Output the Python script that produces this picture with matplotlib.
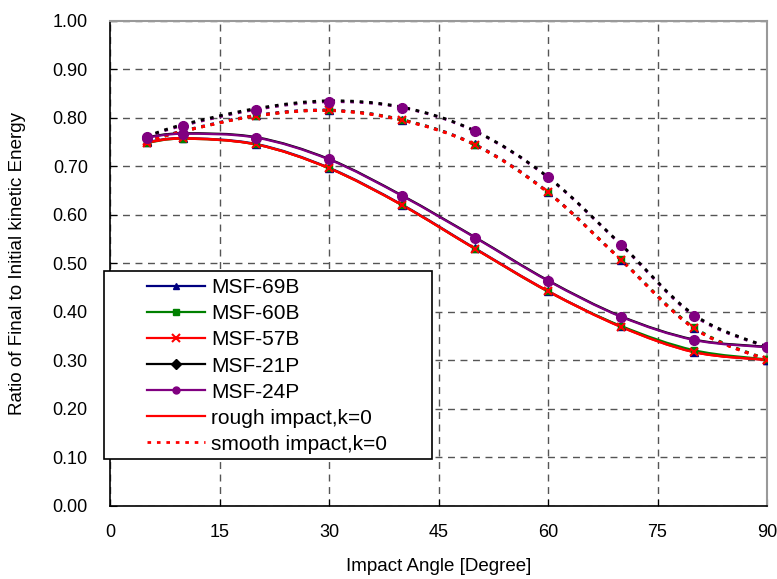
import matplotlib
matplotlib.use("Agg")
from matplotlib import pyplot as plt
from matplotlib.path import Path
from matplotlib.patches import PathPatch, Rectangle
from matplotlib.lines import Line2D

plt.rcParams['font.family'] = ['Liberation Sans', 'DejaVu Sans']

angles = [5, 10, 20, 30, 40, 50, 60, 70, 80, 90]

# rough impact (solid curves)
rough_69b = [0.750, 0.758, 0.746, 0.697, 0.621, 0.531, 0.443, 0.370, 0.318, 0.301]
rough_60b = [0.748, 0.757, 0.745, 0.696, 0.620, 0.530, 0.442, 0.371, 0.321, 0.302]
rough_57b = [0.749, 0.758, 0.745, 0.696, 0.620, 0.530, 0.443, 0.369, 0.317, 0.301]
rough_21p = [0.760, 0.768, 0.760, 0.715, 0.640, 0.554, 0.465, 0.391, 0.343, 0.328]
rough_24p = [0.759, 0.767, 0.759, 0.714, 0.639, 0.553, 0.464, 0.390, 0.342, 0.327]
rough_k0 = [0.749, 0.757, 0.745, 0.696, 0.620, 0.530, 0.442, 0.369, 0.317, 0.301]

# smooth impact (dotted curves)
smooth_69b = [0.752, 0.773, 0.805, 0.816, 0.796, 0.745, 0.647, 0.507, 0.367, 0.301]
smooth_60b = [0.751, 0.772, 0.804, 0.815, 0.796, 0.744, 0.646, 0.508, 0.368, 0.302]
smooth_57b = [0.752, 0.772, 0.804, 0.815, 0.795, 0.744, 0.646, 0.507, 0.366, 0.301]
smooth_21p = [0.762, 0.786, 0.819, 0.835, 0.822, 0.773, 0.678, 0.539, 0.394, 0.328]
smooth_24p = [0.761, 0.784, 0.817, 0.833, 0.821, 0.772, 0.677, 0.538, 0.392, 0.327]
smooth_k0 = [0.752, 0.772, 0.804, 0.815, 0.795, 0.744, 0.646, 0.507, 0.366, 0.301]

names = ['MSF-69B', 'MSF-60B', 'MSF-57B', 'MSF-21P', 'MSF-24P']
colors = ['#000080', '#008000', '#FF0000', '#000000', '#800080']
markers = ['^', 's', 'x', 'D', 'o']
msizes = [6, 5, 6, 4, 7]
rough = [rough_69b, rough_60b, rough_57b, rough_21p, rough_24p]
smooth = [smooth_69b, smooth_60b, smooth_57b, smooth_21p, smooth_24p]
# dotted black curve sits on top of the purple one in the original
smooth_z = [2.0, 2.1, 2.2, 2.5, 2.4]

DOT = (0, (1.3, 2.1))


def smooth_path(xs, ys):
    # excel-like smoothed line as cubic bezier segments
    pts = list(zip(xs, ys))
    n = len(pts)
    verts = [pts[0]]
    codes = [Path.MOVETO]
    for i in range(n - 1):
        p0 = pts[i - 1] if i > 0 else pts[i]
        p1 = pts[i]
        p2 = pts[i + 1]
        p3 = pts[i + 2] if i + 2 < n else pts[i + 1]
        c1 = (p1[0] + (p2[0] - p0[0]) / 6, p1[1] + (p2[1] - p0[1]) / 6)
        c2 = (p2[0] - (p3[0] - p1[0]) / 6, p2[1] - (p3[1] - p1[1]) / 6)
        verts += [c1, c2, p2]
        codes += [Path.CURVE4] * 3
    return Path(verts, codes)


def draw_curve(ax, xs, ys, color, ls, lw, z):
    patch = PathPatch(smooth_path(xs, ys), fill=False, edgecolor=color,
                      linestyle=ls, linewidth=lw, zorder=z)
    ax.add_patch(patch)


fig = plt.figure(figsize=(7.77, 5.79), dpi=100)
ax = fig.add_axes([110 / 777, 1 - 506 / 579, 657 / 777, 485.3 / 579])

for i in range(5):
    draw_curve(ax, angles, smooth[i], colors[i], DOT, 2.0, smooth_z[i])
    draw_curve(ax, angles, rough[i], colors[i], '-', 1.6, 2 + i * 0.1)
    ax.plot(angles, smooth[i], linestyle='none', marker=markers[i], color=colors[i],
            markersize=msizes[i], markeredgewidth=1.5 if markers[i] == 'x' else 1, zorder=3 + i * 0.1)
    ax.plot(angles, rough[i], linestyle='none', marker=markers[i], color=colors[i],
            markersize=msizes[i], markeredgewidth=1.5 if markers[i] == 'x' else 1, zorder=3 + i * 0.1)

draw_curve(ax, angles, rough_k0, '#FF0000', '-', 1.6, 2.6)
draw_curve(ax, angles, smooth_k0, '#FF0000', DOT, 2.0, 2.3)

ax.set_xlim(0, 90)
ax.set_ylim(0, 1.0)
ax.set_xticks(range(0, 91, 15))
ax.set_yticks([i / 10 for i in range(11)])
ax.set_yticklabels(['%.2f' % (i / 10) for i in range(11)])
ax.grid(True, linestyle=(0, (5, 4)), color='#555555', linewidth=1)
ax.set_axisbelow(True)
ax.tick_params(axis='both', direction='in', length=5, labelsize=13, colors='black')
ax.tick_params(axis='y', pad=16)
ax.tick_params(axis='x', pad=13)
for s in ['top', 'right']:
    ax.spines[s].set_color('#999999')
    ax.spines[s].set_linewidth(1.5)
for s in ['left', 'bottom']:
    ax.spines[s].set_color('black')
    ax.spines[s].set_linewidth(1.2)

ax.set_xlabel('Impact Angle [Degree]', fontsize=13.5, labelpad=12)
ax.set_ylabel('Ratio of Final to Initial kinetic Energy', fontsize=13.5, labelpad=19)

# legend
handles = []
for i in range(5):
    handles.append(Line2D([], [], color=colors[i], marker=markers[i], markersize=5 if markers[i] != 'x' else 6,
                          markeredgewidth=1.5 if markers[i] == 'x' else 1, linewidth=1.6))
handles.append(Line2D([], [], color='#FF0000', linewidth=1.6))
handles.append(Line2D([], [], color='#FF0000', linewidth=2.0, linestyle=DOT))
labels = names + ['rough impact,k=0', 'smooth impact,k=0']

box = Rectangle((103.5 / 777, 1 - 458.5 / 579), 328.5 / 777, 188 / 579, transform=fig.transFigure,
                facecolor='white', edgecolor='black', linewidth=1.2, zorder=4)
fig.patches.append(box)
leg = fig.legend(handles, labels, loc='upper left', bbox_to_anchor=(141 / 777, 1 - 272 / 579),
                 frameon=False, fontsize=15, handlelength=2.75, handletextpad=0.33,
                 labelspacing=0.34, borderpad=0.3, borderaxespad=0)
leg.set_zorder(5)

fig.savefig('out.png', dpi=100)
